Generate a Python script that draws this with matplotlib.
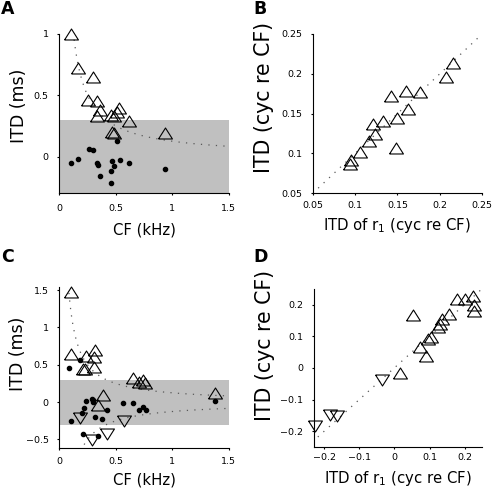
import numpy as np
import matplotlib
matplotlib.use("Agg")
import matplotlib.pyplot as plt
from matplotlib import ticker

# ---- panel A: ITD (ms) vs CF (kHz)
a_tri_cf = [0.10, 0.17, 0.30, 0.25, 0.33, 0.36, 0.33, 0.46, 0.48, 0.53, 0.51, 0.62, 0.47, 0.48, 0.94]
a_tri_itd = [1.00, 0.72, 0.65, 0.46, 0.45, 0.38, 0.33, 0.34, 0.33, 0.40, 0.36, 0.29, 0.20, 0.19, 0.19]
a_dot_cf = [0.10, 0.17, 0.26, 0.30, 0.33, 0.34, 0.36, 0.46, 0.47, 0.48, 0.46, 0.51, 0.54, 0.62, 0.94]
a_dot_itd = [-0.05, -0.02, 0.06, 0.05, -0.05, -0.07, -0.16, -0.12, -0.035, -0.08, -0.22, 0.125, -0.025, -0.05, -0.105]

# ---- panel B: ITD (cyc re CF) vs ITD of r1
b_x = [0.094, 0.095, 0.106, 0.117, 0.123, 0.121, 0.133, 0.142, 0.148, 0.149, 0.160, 0.162, 0.177, 0.207, 0.216]
b_y = [0.087, 0.092, 0.102, 0.116, 0.124, 0.137, 0.141, 0.172, 0.107, 0.145, 0.179, 0.156, 0.177, 0.196, 0.214]

# ---- panel C
c_up_cf = [0.10, 0.10, 0.24, 0.32, 0.31, 0.21, 0.23, 0.31, 0.65, 0.71, 0.74, 0.76, 1.38, 0.39, 0.34]
c_up_itd = [1.48, 0.64, 0.62, 0.70, 0.60, 0.45, 0.44, 0.47, 0.33, 0.27, 0.30, 0.26, 0.12, 0.10, -0.04]
c_down_cf = [0.18, 0.57, 0.29, 0.42]
c_down_itd = [-0.21, -0.25, -0.51, -0.42]
c_dot_cf = [0.09, 0.18, 0.10, 0.20, 0.22, 0.24, 0.29, 0.30, 0.32, 0.38, 0.42, 0.56, 0.65, 0.71, 0.74, 0.77, 1.38, 0.21, 0.34, 0.30]
c_dot_itd = [0.46, 0.56, -0.25, -0.14, -0.08, 0.01, 0.04, 0.00, -0.20, -0.22, -0.11, -0.01, -0.01, -0.10, -0.06, -0.11, 0.02, -0.42, -0.45, 0.03]

# ---- panel D
d_up_x = [0.053, 0.015, 0.091, 0.072, 0.096, 0.105, 0.125, 0.131, 0.136, 0.155, 0.178, 0.200, 0.224, 0.226, 0.226]
d_up_y = [0.168, -0.016, 0.036, 0.065, 0.090, 0.097, 0.130, 0.140, 0.153, 0.170, 0.216, 0.219, 0.227, 0.200, 0.179]
d_down_x = [-0.035, -0.184, -0.165, -0.225]
d_down_y = [-0.038, -0.148, -0.152, -0.185]

# reference: 1/8 cycle of CF
eighth_cycle = 0.125

up = [(-1, -0.79), (1, -0.79), (0, 0.79), (-1, -0.79)]
down = [(-1, 0.79), (1, 0.79), (0, -0.79), (-1, 0.79)]
tri = dict(ms=10, mfc='none', mec='black', mew=0.8, ls='none', clip_on=False, zorder=3)
dot = dict(marker='o', ms=3, color='black', ls='none', zorder=4, clip_on=False)
dotted = dict(ls=(0, (1, 5)), lw=0.9, color='0.35', zorder=2)
band = '#c0c0c0'


def fmt(v, pos):
    return ('%g' % v).replace('-', '\u2212')


def style(ax, xpad):
    for s in ['top', 'right']:
        ax.spines[s].set_visible(False)
    for s in ['left', 'bottom']:
        ax.spines[s].set_linewidth(0.8)
    ax.tick_params(length=1.5, width=0.8, labelsize=6.8, pad=6)
    ax.tick_params(axis='x', pad=xpad)
    ax.xaxis.set_major_formatter(ticker.FuncFormatter(fmt))
    ax.yaxis.set_major_formatter(ticker.FuncFormatter(fmt))


fig = plt.figure(figsize=(4.94, 4.94), dpi=100)

# A
ax = fig.add_axes([0.120, 0.6087, 0.343, 0.3225])
ax.axhspan(-0.3, 0.3, color=band, lw=0, zorder=0)
cf = np.linspace(0.11, 1.5, 200)
ax.plot(cf, eighth_cycle / cf, **dotted)
ax.plot(a_tri_cf, a_tri_itd, marker=up, **tri)
ax.plot(a_dot_cf, a_dot_itd, **dot)
ax.set_xlim(0, 1.5)
ax.set_ylim(-0.3, 1.0)
ax.set_xticks([0, 0.5, 1, 1.5])
ax.set_yticks([0, 0.5, 1])
style(ax, 6)
ax.set_xlabel('CF (kHz)', fontsize=10.7)
ax.xaxis.set_label_coords(0.5, -0.23)
ax.xaxis.label.set_va('center')
ax.set_ylabel('ITD (ms)', fontsize=12.5)
ax.yaxis.set_label_coords(-0.238, 0.55)
ax.yaxis.label.set_va('center')

# B
ax = fig.add_axes([0.633, 0.6087, 0.343, 0.3225])
ax.plot([0.05, 0.25], [0.05, 0.25], **dotted)
ax.plot(b_x, b_y, marker=up, **tri)
ax.set_xlim(0.05, 0.25)
ax.set_ylim(0.05, 0.25)
ax.set_xticks([0.05, 0.1, 0.15, 0.2, 0.25])
ax.set_yticks([0.05, 0.1, 0.15, 0.2, 0.25])
style(ax, 4)
ax.set_xlabel('ITD of r$_1$ (cyc re CF)', fontsize=10.7)
ax.xaxis.set_label_coords(0.5, -0.2)
ax.xaxis.label.set_va('center')
ax.set_ylabel('ITD (cyc re CF)', fontsize=14.8)
ax.yaxis.set_label_coords(-0.285, 0.6)
ax.yaxis.label.set_va('center')

# C
ax = fig.add_axes([0.120, 0.0937, 0.343, 0.325])
ax.axhspan(-0.3, 0.3, color=band, lw=0, zorder=0)
cf = np.linspace(0.08, 1.5, 300)
ax.plot(cf, eighth_cycle / cf, **dotted)
ax.plot(cf, -eighth_cycle / cf, **dotted)
ax.plot(c_up_cf, c_up_itd, marker=up, **tri)
ax.plot(c_down_cf, c_down_itd, marker=down, **tri)
ax.plot(c_dot_cf, c_dot_itd, **dot)
ax.set_xlim(0, 1.5)
ax.set_ylim(-0.61, 1.54)
ax.set_xticks([0, 0.5, 1, 1.5])
ax.set_yticks([-0.5, 0, 0.5, 1, 1.5])
style(ax, 5)
ax.set_xlabel('CF (kHz)', fontsize=10.7)
ax.xaxis.set_label_coords(0.5, -0.2)
ax.xaxis.label.set_va('center')
ax.set_ylabel('ITD (ms)', fontsize=12.5)
ax.yaxis.set_label_coords(-0.245, 0.585)
ax.yaxis.label.set_va('center')

# D
ax = fig.add_axes([0.635, 0.0951, 0.341, 0.3205])
ax.plot([-0.25, 0.25], [-0.25, 0.25], **dotted)
ax.plot(d_up_x, d_up_y, marker=up, **tri)
ax.plot(d_down_x, d_down_y, marker=down, **tri)
ax.set_xlim(-0.23, 0.25)
ax.set_ylim(-0.25, 0.25)
ax.set_xticks([-0.2, -0.1, 0, 0.1, 0.2])
ax.set_yticks([-0.2, -0.1, 0, 0.1, 0.2])
style(ax, 3)
ax.set_xlabel('ITD of r$_1$ (cyc re CF)', fontsize=10.7)
ax.xaxis.set_label_coords(0.5, -0.2)
ax.xaxis.label.set_va('center')
ax.set_ylabel('ITD (cyc re CF)', fontsize=14.8)
ax.yaxis.set_label_coords(-0.29, 0.64)
ax.yaxis.label.set_va('center')

for lab, x, y in [('A', 0.002, 0.972), ('B', 0.513, 0.972), ('C', 0.002, 0.47), ('D', 0.513, 0.47)]:
    fig.text(x, y, lab, fontsize=12.5, fontweight='bold')

fig.savefig('out.png', dpi=100)
